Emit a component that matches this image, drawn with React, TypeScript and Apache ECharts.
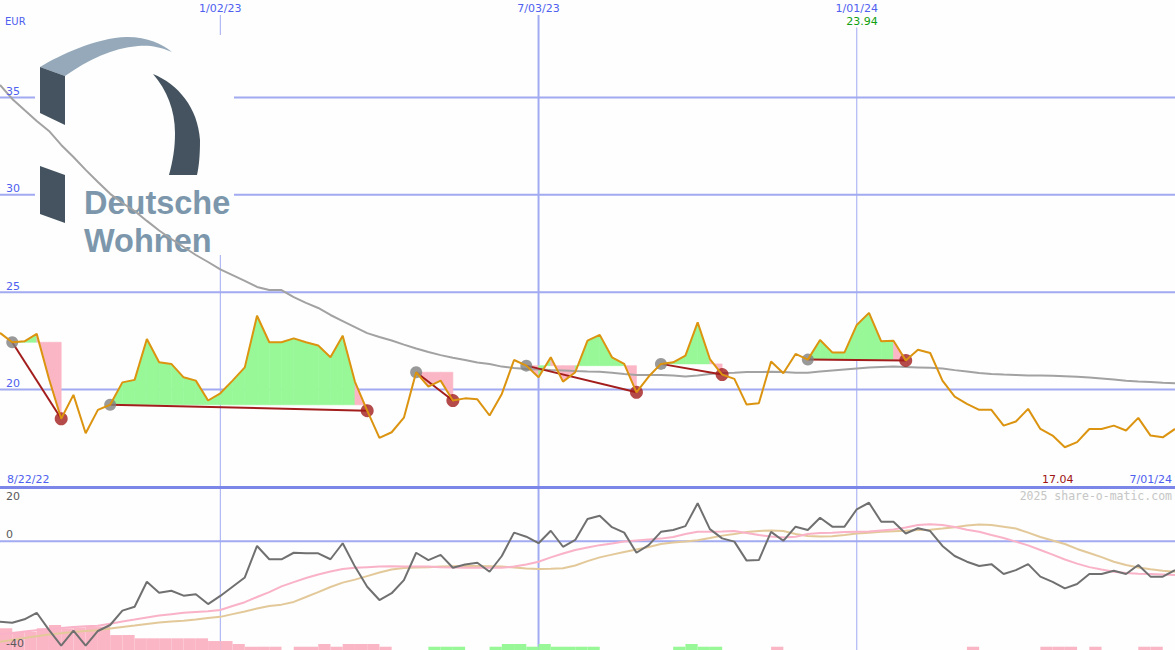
import React, { useEffect, useRef } from "react";
import * as echarts from "echarts";

// ---------- DATA ----------
const weekIndex = Array.from({ length: 97 }, (_, k) => k + 1);

const price = [
  22.91, 22.43, 22.48, 22.86, 20.56, 18.5, 19.73, 17.76, 18.96, 19.22,
  20.37, 20.5, 22.6, 21.4, 21.32, 20.63, 20.46, 19.44, 19.81, 20.46,
  21.14, 23.79, 22.43, 22.43, 22.63, 22.43, 22.26, 21.66, 22.77, 20.4,
  18.92, 17.52, 17.81, 18.56, 20.89, 20.15, 20.46, 19.44, 19.55, 19.5,
  18.67, 19.78, 21.52, 21.23, 20.63, 21.66, 20.41, 20.89, 22.51, 22.81,
  21.66, 21.32, 19.86, 20.67, 21.32, 21.4, 21.74, 23.45, 21.57, 20.77,
  20.55, 19.23, 19.3, 21.44, 20.84, 21.83, 21.54, 22.55, 21.91, 21.91,
  23.32, 23.94, 22.48, 22.51, 21.5, 22.05, 21.88, 20.46, 19.64, 19.27,
  18.96, 18.96, 18.15, 18.36, 19.01, 17.98, 17.64, 17.04, 17.3, 17.98,
  17.98, 18.15, 17.9, 18.55, 17.64, 17.55, 17.98,
];

const movingAverage = [
  35.64, 34.92, 34.35, 33.79, 33.28, 32.56, 31.94, 31.28, 30.66, 30.05,
  29.58, 29.17, 28.66, 28.17, 27.73, 27.32, 26.91, 26.55, 26.17, 25.88,
  25.58, 25.27, 25.11, 25.11, 24.75, 24.45, 24.19, 23.83, 23.52, 23.21,
  22.9, 22.7, 22.52, 22.31, 22.11, 21.93, 21.77, 21.64, 21.52, 21.39,
  21.31, 21.18, 21.11, 21.06, 21.03, 21.0, 20.98, 20.95, 20.93, 20.92,
  20.87, 20.8, 20.75, 20.75, 20.75, 20.72, 20.67, 20.72, 20.8, 20.85,
  20.87, 20.9, 20.9, 20.92, 20.9, 20.87, 20.87, 20.93, 20.98, 21.03,
  21.08, 21.13, 21.16, 21.18, 21.16, 21.14, 21.12, 21.08, 21.0, 20.93,
  20.85, 20.8, 20.77, 20.75, 20.73, 20.72, 20.71, 20.69, 20.66, 20.62,
  20.57, 20.52, 20.46, 20.42, 20.39, 20.35, 20.32,
];

const oscillator = [
  -29.6, -30.0, -28.7, -26.3, -32.6, -38.4, -32.9, -38.4, -33.0, -30.8,
  -25.5, -24.1, -14.9, -18.9, -18.2, -20.0, -19.5, -23.1, -20.1, -16.7,
  -13.3, -1.7, -6.6, -6.6, -4.2, -4.4, -4.4, -6.6, -0.7, -9.3,
  -16.7, -21.6, -19.1, -14.3, -4.2, -6.9, -5.0, -9.7, -8.5, -7.9,
  -11.2, -5.4, 3.2, 1.7, -0.7, 3.9, -2.0, 0.5, 8.2, 9.4,
  5.2, 3.2, -4.2, -1.4, 3.5, 4.2, 5.6, 14.0, 4.5, 1.1,
  -0.1, -7.1, -6.9, 3.5, 0.2, 5.4, 4.2, 8.7, 5.4, 5.4,
  11.8, 14.2, 7.2, 7.2, 2.9, 4.8, 3.8, -1.7, -5.4, -7.5,
  -9.1, -8.4, -12.0, -10.6, -8.4, -13.0, -14.9, -17.3, -15.7, -12.0,
  -12.0, -10.8, -12.0, -8.7, -13.0, -13.0, -10.6,
];

const signalFast = [
  -34.1, -33.8, -33.2, -32.7, -32.3, -31.9, -31.5, -31.3, -31.1, -30.3,
  -29.5, -28.8, -28.0, -27.3, -26.8, -26.3, -26.0, -25.7, -25.3, -23.8,
  -22.4, -20.5, -18.7, -16.6, -15.0, -13.5, -12.2, -11.1, -10.2, -9.7,
  -9.5, -9.3, -9.2, -9.3, -9.3, -9.3, -9.5, -9.6, -9.7, -9.7,
  -9.7, -9.7, -9.3, -8.5, -7.5, -5.9, -4.5, -3.2, -2.3, -1.4,
  -0.8, -0.1, 0.3, 0.7, 1.0, 1.6, 2.7, 3.5, 3.5, 3.6,
  3.8, 3.1, 2.3, 1.8, 1.4, 1.7, 2.7, 3.1, 3.2, 3.4,
  3.5, 3.6, 4.0, 4.4, 5.1, 6.0, 6.3, 6.0, 5.3, 4.3,
  3.5, 2.3, 1.2, -0.1, -1.5, -3.2, -4.9, -6.7, -8.2, -9.5,
  -10.4, -11.2, -11.7, -11.9, -12.0, -12.2, -12.4,
];

const signalSlow = [
  -37.0, -36.3, -35.6, -34.9, -34.3, -33.8, -33.4, -33.0, -32.7, -32.1,
  -31.5, -31.0, -30.4, -29.9, -29.5, -29.2, -28.8, -28.2, -27.8, -26.8,
  -25.8, -24.7, -23.8, -23.3, -22.3, -20.5, -18.7, -16.8, -15.2, -14.1,
  -12.8, -11.5, -10.4, -9.8, -9.6, -9.5, -9.3, -9.2, -9.1, -9.1,
  -9.2, -9.3, -9.6, -10.0, -10.2, -10.1, -9.9, -8.9, -7.3, -5.9,
  -4.9, -3.9, -3.0, -2.1, -1.0, -0.4, -0.1, 0.4, 1.2, 2.1,
  2.7, 3.4, 3.8, 4.0, 3.8, 2.7, 2.0, 1.8, 1.9, 2.3,
  2.9, 3.2, 3.5, 3.7, 3.9, 4.2, 4.3, 4.7, 5.2, 5.8,
  6.2, 6.0, 5.4, 4.7, 3.2, 1.6, 0.3, -1.0, -2.8, -4.3,
  -5.8, -7.5, -8.7, -9.6, -10.3, -10.8, -11.2,
];

// weekly histogram segments (week k to k+1); negative = pink, positive = green
const histogram = [
  -8.0, -6.7, -6.7, -8.0, -9.2, -8.0, -8.3, -8.6, -8.6, -5.5,
  -5.5, -4.3, -4.3, -4.3, -4.3, -4.3, -4.3, -3.3, -3.3, -2.2,
  -1.2, -1.2, -1.2, 0, -1.2, -1.2, -2.2, -1.2, -2.2, -2.2,
  -2.2, -1.2, 0, 0, 0, 1.2, 1.2, 1.2, 0, 0,
  1.2, 2.2, 2.2, 1.2, 2.2, 1.2, 1.2, 1.2, 1.2, 0,
  0, 0, 0, 0, 0, 1.2, 2.2, 1.2, 1.2, 0,
  0, 0, 0, -1.2, 0, 0, 0, 0, 0, 0,
  0, 0, 0, 0, 0, 0, 0, 0, 0, -1.2,
  0, 0, 0, 0, 0, -1.2, -1.2, -1.2, 0, -1.2,
  0, 0, 0, -1.2, -1.2, 0,
];

const buyWeeks = [2, 10, 35, 44, 55, 67];
const sellWeeks = [6, 31, 38, 53, 60, 75];

const priceLevels = [20, 25, 30, 35];
const oscLevels = [0];
const oscLabelValues = [20, 0, -40];
const dateTickWeeks = [19, 45, 71];
const dateTickLabels = ["1/02/23", "7/03/23", "1/01/24"];
const periodStart = "8/22/22";
const periodEnd = "7/01/24";
const currency = "EUR";
const copyright = "2025 share-o-matic.com";
const logoText = "Deutsche\nWohnen";

// ---------- STYLES ----------
const BG = "#fdfefd";
const GRID = "#a2aaf2";
const HEAVY = "#7b86e8";
const BLUE_TXT = "#4f5ff0";
const GRAY_TXT = "#5a5a5a";
const ORANGE = "#dc9410";
const MA_GRAY = "#a2a2a2";
const GREEN_FILL = "#98f898";
const PINK_FILL = "#fbb6c6";
const DARK_RED = "#a31d1d";
const BUY_GRAY = "#808080";
const OSC_GRAY = "#707070";
const OSC_PINK = "#f9b2c8";
const OSC_TAN = "#e3c99a";
const HIGH_GREEN = "#10a010";
const LOW_RED = "#a01414";
const LOGO_DARK = "#44535f";
const LOGO_LIGHT = "#95a9ba";
const LOGO_TEXT = "#7c97ac";
const FONT = '"DejaVu Sans"';
const dateLineWidths = [1, 2, 1];

// ---------- LOGO SHAPES ----------
echarts.graphic.registerShape(
  "dwArc",
  echarts.graphic.extendPath(
    "M40,67 C60,55 95,38 127,37 C148,37 162,44 172,52 C158,46 148,45 138,46 C112,48 88,60 65,76 Z",
    {}
  )
);
echarts.graphic.registerShape(
  "dwCrescent",
  echarts.graphic.extendPath(
    "M153,74 C178,84 198,108 200,140 C200,155 199,166 197,175 L169,175 C173,160 175,148 175,133 C175,110 167,90 153,74 Z",
    {}
  )
);

export default function App() {
  const ref = useRef<HTMLDivElement>(null);

  useEffect(() => {
    document.body.style.margin = "0";
    if (!ref.current) return;
    const chart = echarts.init(ref.current, undefined, { renderer: "svg" });

    const pricePts = weekIndex.map((w, k) => [w, price[k]]);
    const maPts = weekIndex.map((w, k) => [w, movingAverage[k]]);
    const oscPts = weekIndex.map((w, k) => [w, oscillator[k]]);
    const fastPts = weekIndex.map((w, k) => [w, signalFast[k]]);
    const slowPts = weekIndex.map((w, k) => [w, signalSlow[k]]);

    const fillSegs: number[][] = [];
    buyWeeks.forEach((b, t) => {
      const s = sellWeeks[t];
      const level = price[b - 1];
      for (let w = b; w < s; w++) {
        const p0 = price[w - 1];
        const p1 = price[w];
        fillSegs.push([w, p0, p1, level, p1 >= level ? 1 : 0]);
      }
    });
    const tradeLines = buyWeeks.map((b, t) => [b, price[b - 1], sellWeeks[t], price[sellWeeks[t] - 1]]);
    const buyPts = buyWeeks.map((b) => [b, price[b - 1]]);
    const sellPts = sellWeeks.map((s) => [s, price[s - 1]]);

    let maxK = 0;
    let minK = 0;
    price.forEach((p, k) => {
      if (p > price[maxK]) maxK = k;
      if (p < price[minK]) minK = k;
    });
    const extremes = [
      [weekIndex[maxK], price[maxK], 1],
      [weekIndex[minK], price[minK], 0],
    ];

    const histData = histogram
      .map((h, k) => [k + 1, Math.abs(h), h < 0 ? 0 : 1])
      .filter((d) => d[1] > 0);

    const option: any = {
      animation: false,
      backgroundColor: BG,
      grid: [
        { left: 0, right: 0, top: 0, height: 487 },
        { left: 0, right: 0, top: 487, height: 163 },
      ],
      xAxis: [
        {
          gridIndex: 0,
          type: "value",
          min: 1,
          max: 97,
          position: "top",
          axisLine: { show: false },
          axisTick: { show: false },
          splitLine: { show: false },
          axisLabel: {
            inside: true,
            customValues: dateTickWeeks,
            margin: 3,
            formatter: (v: number) => {
              const k = dateTickWeeks.indexOf(v);
              return k >= 0 ? dateTickLabels[k] : "";
            },
            color: BLUE_TXT,
            fontSize: 11,
            fontFamily: FONT,
          },
        },
        {
          gridIndex: 1,
          type: "value",
          min: 1,
          max: 97,
          position: "top",
          axisLine: { show: true, onZero: false, lineStyle: { color: HEAVY, width: 3 } },
          axisTick: { show: false },
          axisLabel: { show: false },
          splitLine: { show: false },
        },
      ],
      yAxis: [
        {
          gridIndex: 0,
          type: "value",
          min: 15,
          max: 40,
          interval: 5,
          z: 10,
          axisLine: { show: false },
          axisTick: { show: false },
          splitLine: { show: false },
          axisLabel: {
            inside: true,
            margin: 6,
            formatter: (v: number) => (priceLevels.indexOf(v) >= 0 ? `{a|${v}}` : ""),
            rich: { a: { color: BLUE_TXT, fontSize: 11, fontFamily: FONT, padding: [0, 0, 12, 0] } },
          },
        },
        {
          gridIndex: 1,
          type: "value",
          min: -40,
          max: 20,
          interval: 20,
          z: 10,
          axisLine: { show: false },
          axisTick: { show: false },
          splitLine: { show: false },
          axisLabel: {
            inside: true,
            margin: 6,
            formatter: (v: number) => {
              if (oscLabelValues.indexOf(v) < 0) return "";
              return v === 20 ? `{lo|${v}}` : `{hi|${v}}`;
            },
            rich: {
              lo: { color: GRAY_TXT, fontSize: 11, fontFamily: FONT, padding: [18, 0, 0, 0] },
              hi: { color: GRAY_TXT, fontSize: 11, fontFamily: FONT, padding: [0, 0, 13, 0] },
            },
          },
        },
        { gridIndex: 1, type: "value", min: 0, max: 60, show: false },
      ],
      graphic: {
        elements: [
          { type: "text", z: 20, silent: true, x: 5, y: 21, style: { text: currency, font: `10px ${FONT}`, fill: BLUE_TXT, align: "left", verticalAlign: "middle" } },
          { type: "text", z: 20, silent: true, x: 7, y: 479, style: { text: periodStart, font: `11px ${FONT}`, fill: BLUE_TXT, align: "left", verticalAlign: "middle" } },
          { type: "text", z: 20, silent: true, x: 1172, y: 479, style: { text: periodEnd, font: `11px ${FONT}`, fill: BLUE_TXT, align: "right", verticalAlign: "middle" } },
          { type: "text", z: 20, silent: true, x: 1172, y: 496, style: { text: copyright, font: `11.5px "DejaVu Sans Mono"`, fill: "#c6c6c6", align: "right", verticalAlign: "middle" } },
        ],
      },
      series: [
        // horizontal grid lines (price panel)
        {
          type: "custom",
          xAxisIndex: 0,
          yAxisIndex: 0,
          z: 0,
          silent: true,
          data: priceLevels.map((v) => [1, v]),
          renderItem: (params: any, api: any) => {
            const cs = params.coordSys;
            const y = api.coord([api.value(0), api.value(1)])[1];
            return { type: "line", shape: { x1: cs.x, y1: y, x2: cs.x + cs.width, y2: y }, style: { stroke: GRID, lineWidth: 2 } };
          },
        },
        // horizontal grid lines (oscillator panel)
        {
          type: "custom",
          xAxisIndex: 1,
          yAxisIndex: 1,
          z: 0,
          silent: true,
          data: oscLevels.map((v) => [1, v]),
          renderItem: (params: any, api: any) => {
            const cs = params.coordSys;
            const y = api.coord([api.value(0), api.value(1)])[1];
            return { type: "line", shape: { x1: cs.x, y1: y, x2: cs.x + cs.width, y2: y }, style: { stroke: GRID, lineWidth: 2 } };
          },
        },
        // vertical date lines
        {
          type: "custom",
          xAxisIndex: 0,
          yAxisIndex: 0,
          z: 0,
          silent: true,
          data: dateTickWeeks.map((w, k) => [w, 20, k]),
          renderItem: (params: any, api: any) => {
            const x = api.coord([api.value(0), api.value(1)])[0];
            const k = api.value(2);
            return { type: "line", shape: { x1: x, y1: 15, x2: x, y2: api.getHeight() }, style: { stroke: GRID, lineWidth: dateLineWidths[k] } };
          },
        },
        // company logo (above grid lines, below data)
        {
          type: "custom",
          xAxisIndex: 0,
          yAxisIndex: 0,
          z: 1,
          silent: true,
          data: [[1, 40]],
          renderItem: () => ({
            type: "group",
            children: [
              { type: "rect", shape: { x: 35, y: 35, width: 199, height: 220 }, style: { fill: BG } },
              { type: "dwArc", x: 0, y: 0, style: { fill: LOGO_LIGHT } },
              { type: "dwCrescent", x: 0, y: 0, style: { fill: LOGO_DARK } },
              { type: "polygon", shape: { points: [[40, 67], [65, 76], [65, 125], [40, 113]] }, style: { fill: LOGO_DARK } },
              { type: "polygon", shape: { points: [[40, 166], [65, 175], [65, 223], [40, 214]] }, style: { fill: LOGO_DARK } },
              {
                type: "text",
                x: 84,
                y: 184,
                style: { text: logoText, font: 'bold 32.5px "Liberation Sans"', lineHeight: 38, fill: LOGO_TEXT, align: "left", verticalAlign: "top" },
              },
            ],
          }),
        },
        // trade fills
        {
          type: "custom",
          xAxisIndex: 0,
          yAxisIndex: 0,
          z: 2,
          silent: true,
          data: fillSegs,
          renderItem: (params: any, api: any) => {
            const w = api.value(0);
            const p0 = api.value(1);
            const p1 = api.value(2);
            const lv = api.value(3);
            const col = api.value(4) ? GREEN_FILL : PINK_FILL;
            const a = api.coord([w, lv]);
            const b = api.coord([w, p0]);
            const c = api.coord([w + 1, p1]);
            const d = api.coord([w + 1, lv]);
            return { type: "polygon", shape: { points: [a, b, c, d] }, style: { fill: col, stroke: col, lineWidth: 0.6 } };
          },
        },
        // moving average
        {
          type: "line",
          xAxisIndex: 0,
          yAxisIndex: 0,
          z: 3,
          data: maPts,
          symbol: "none",
          lineStyle: { color: MA_GRAY, width: 2 },
        },
        // trade connector lines
        {
          type: "custom",
          xAxisIndex: 0,
          yAxisIndex: 0,
          z: 4,
          silent: true,
          data: tradeLines,
          renderItem: (params: any, api: any) => {
            const a = api.coord([api.value(0), api.value(1)]);
            const b = api.coord([api.value(2), api.value(3)]);
            return { type: "line", shape: { x1: a[0], y1: a[1], x2: b[0], y2: b[1] }, style: { stroke: DARK_RED, lineWidth: 2 } };
          },
        },
        {
          type: "scatter",
          xAxisIndex: 0,
          yAxisIndex: 0,
          z: 5,
          data: buyPts,
          symbolSize: 12,
          itemStyle: { color: BUY_GRAY },
        },
        {
          type: "scatter",
          xAxisIndex: 0,
          yAxisIndex: 0,
          z: 5,
          data: sellPts,
          symbolSize: 13,
          itemStyle: { color: DARK_RED },
        },
        // price
        {
          type: "line",
          xAxisIndex: 0,
          yAxisIndex: 0,
          z: 6,
          data: pricePts,
          symbol: "none",
          lineStyle: { color: ORANGE, width: 2 },
        },
        // high / low labels
        {
          type: "custom",
          xAxisIndex: 0,
          yAxisIndex: 0,
          z: 8,
          silent: true,
          data: extremes,
          renderItem: (params: any, api: any) => {
            const cs = params.coordSys;
            const x = api.coord([api.value(0), api.value(1)])[0] - 7;
            const hi = api.value(2) === 1;
            return {
              type: "text",
              x,
              y: hi ? cs.y + 21 : cs.y + cs.height - 8,
              style: {
                text: Number(api.value(1)).toFixed(2),
                fill: hi ? HIGH_GREEN : LOW_RED,
                font: `11px ${FONT}`,
                align: "center",
                verticalAlign: "middle",
                backgroundColor: BG,
                padding: [1, 2],
              },
            };
          },
        },
        // histogram
        {
          type: "custom",
          xAxisIndex: 1,
          yAxisIndex: 2,
          z: 2,
          silent: true,
          data: histData,
          renderItem: (params: any, api: any) => {
            const s = api.value(0);
            const h = api.value(1);
            const p0 = api.coord([s, 0]);
            const p1 = api.coord([s + 1, h]);
            return {
              type: "rect",
              shape: { x: p0[0], y: p1[1], width: p1[0] - p0[0], height: p0[1] - p1[1] },
              style: { fill: api.value(2) ? GREEN_FILL : PINK_FILL },
            };
          },
        },
        {
          type: "line",
          xAxisIndex: 1,
          yAxisIndex: 1,
          z: 3,
          data: slowPts,
          symbol: "none",
          lineStyle: { color: OSC_TAN, width: 2 },
        },
        {
          type: "line",
          xAxisIndex: 1,
          yAxisIndex: 1,
          z: 4,
          data: fastPts,
          symbol: "none",
          lineStyle: { color: OSC_PINK, width: 2 },
        },
        {
          type: "line",
          xAxisIndex: 1,
          yAxisIndex: 1,
          z: 5,
          data: oscPts,
          symbol: "none",
          lineStyle: { color: OSC_GRAY, width: 2 },
        },
      ],
    };

    chart.setOption(option);
    return () => chart.dispose();
  }, []);

  return <div ref={ref} style={{ width: 1175, height: 650 }} />;
}
